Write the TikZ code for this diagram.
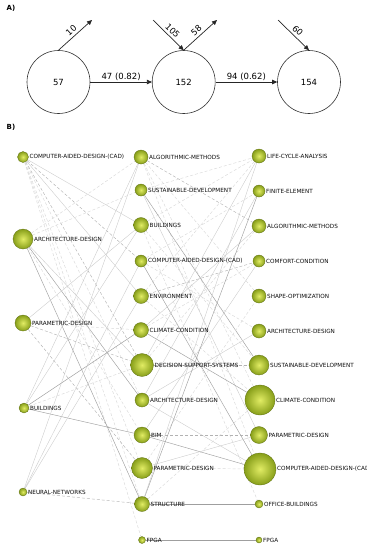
\documentclass[tikz,border=0pt]{standalone}
\usepackage{fontspec}
\setmainfont{DejaVu Sans}
\usetikzlibrary{arrows.meta,backgrounds}
\definecolor{ballin}{RGB}{225,236,100}
\definecolor{ballout}{RGB}{135,158,25}
\definecolor{balledge}{RGB}{95,112,20}
\begin{document}
\begin{tikzpicture}[x=1pt,y=-1pt,label distance=0.3pt,
  theme/.style={circle, inner sep=0pt, minimum size=#1, shade, inner color=ballin, outer color=ballout, draw=balledge, line width=0.3pt},
  lbl/.style={font=\fontsize{5.7}{6}\selectfont, text=black!95, inner sep=0.5pt},
  bigc/.style={circle, draw=black!80, line width=0.6pt, minimum size=63pt, inner sep=0pt, font=\fontsize{8.5}{10}\selectfont},
  arr/.style={-{Triangle[length=5pt,width=4.5pt]}, line width=0.7pt, draw=black!85},
  alab/.style={font=\fontsize{8.5}{10}\selectfont, inner sep=1.5pt},
  slab/.style={font=\fontsize{8.5}{10}\selectfont, inner sep=2.5pt, sloped, above},
  sdark/.style={draw=gray!75, line width=0.45pt},
  slight/.style={draw=gray!40, line width=0.4pt},
  ddark/.style={draw=gray!60, line width=0.45pt, dash pattern=on 3pt off 2pt},
  dlight/.style={draw=gray!30, line width=0.45pt, dash pattern=on 3pt off 2pt},
  sec/.style={font=\bfseries\fontsize{7}{8}\selectfont}
]
\useasboundingbox (0,0) rectangle (367,550);
% ---------- Part A ----------
\node[sec] (la) at (11,8) {A)};
\node[sec] (lb) at (11,127) {B)};
\node[bigc] (p1) at (58.5,82) {57};
\node[bigc] (p2) at (183.7,82) {152};
\node[bigc] (p3) at (309,82) {154};
\coordinate (o1) at (92,20);
\coordinate (i2) at (153,20);
\coordinate (o2) at (217,20);
\coordinate (i3) at (278,20);
\draw[arr] (p1) -- node[alab,above]{47 (0.82)} (p2);
\draw[arr] (p2) -- node[alab,above]{94 (0.62)} (p3);
\draw[arr] (p1.north) -- node[slab]{10} (o1);
\draw[arr] (i2) -- node[slab]{105} (p2.north);
\draw[arr] (p2.north) -- node[slab]{58} (o2);
\draw[arr] (i3) -- node[slab]{60} (p3.north);
% ---------- Part B nodes ----------
% column 1
\node[theme=11pt, label={[lbl]right:COMPUTER-AIDED-DESIGN-(CAD)}] (a1) at (23,157) {};
\node[theme=20pt, label={[lbl]right:ARCHITECTURE-DESIGN}] (a2) at (23,239) {};
\node[theme=16pt, label={[lbl]right:PARAMETRIC-DESIGN}] (a3) at (23,323) {};
\node[theme=10pt, label={[lbl]right:BUILDINGS}] (a4) at (24,408) {};
\node[theme=8pt, label={[lbl]right:NEURAL-NETWORKS}] (a5) at (23,492) {};
% column 2
\node[theme=14pt, label={[lbl]right:ALGORITHMIC-METHODS}] (b1) at (141,157) {};
\node[theme=12pt, label={[lbl]right:SUSTAINABLE-DEVELOPMENT}] (b2) at (141,190) {};
\node[theme=15pt, label={[lbl]right:BUILDINGS}] (b3) at (141,225) {};
\node[theme=12pt, label={[lbl]right:COMPUTER-AIDED-DESIGN-(CAD)}] (b4) at (141,261) {};
\node[theme=15pt, label={[lbl]right:ENVIRONMENT}] (b5) at (141,296) {};
\node[theme=15pt, label={[lbl]right:CLIMATE-CONDITION}] (b6) at (141,330) {};
\node[theme=23pt, label={[lbl]right:DECISION-SUPPORT-SYSTEMS}] (b7) at (142,365) {};
\node[theme=14pt, label={[lbl]right:ARCHITECTURE-DESIGN}] (b8) at (142,400) {};
\node[theme=16pt, label={[lbl]right:BIM}] (b9) at (142,435) {};
\node[theme=21pt, label={[lbl]right:PARAMETRIC-DESIGN}] (b10) at (142,468) {};
\node[theme=15pt, label={[lbl]right:STRUCTURE}] (b11) at (142,504) {};
\node[theme=7pt, label={[lbl]right:FPGA}] (b12) at (142,540) {};
% column 3
\node[theme=14pt, label={[lbl]right:LIFE-CYCLE-ANALYSIS}] (c1) at (259,156) {};
\node[theme=12pt, label={[lbl]right:FINITE-ELEMENT}] (c2) at (259,191) {};
\node[theme=14pt, label={[lbl]right:ALGORITHMIC-METHODS}] (c3) at (259,226) {};
\node[theme=12pt, label={[lbl]right:COMFORT-CONDITION}] (c4) at (259,261) {};
\node[theme=14pt, label={[lbl]right:SHAPE-OPTIMIZATION}] (c5) at (259,296) {};
\node[theme=14pt, label={[lbl]right:ARCHITECTURE-DESIGN}] (c6) at (259,331) {};
\node[theme=20pt, label={[lbl]right:SUSTAINABLE-DEVELOPMENT}] (c7) at (259,365) {};
\node[theme=30pt, label={[lbl]right:CLIMATE-CONDITION}] (c8) at (260,400) {};
\node[theme=17pt, label={[lbl]right:PARAMETRIC-DESIGN}] (c9) at (259,435) {};
\node[theme=32pt, label={[lbl]right:COMPUTER-AIDED-DESIGN-(CAD)}] (c10) at (260,469) {};
\node[theme=8pt, label={[lbl]right:OFFICE-BUILDINGS}] (c11) at (259,504) {};
\node[theme=6pt, label={[lbl]right:FPGA}] (c12) at (259,540) {};
% ---------- Part B edges ----------
\begin{scope}[on background layer]
% column 1 -> column 2
\draw[ddark] (a1) -- (b4);
\draw[slight] (a1) -- (b5);
\draw[ddark] (a1) -- (b7);
\draw[dlight] (a1) -- (b10);
\draw[dlight] (a1) -- (b11);
\draw[dlight] (a1) -- (b12);
\draw[dlight] (a1) -- (b8);
\draw[slight] (a1) -- (b3);
\draw[sdark] (a2) -- (b8);
\draw[sdark] (a2) -- (b11);
\draw[dlight] (a2) -- (b2);
\draw[dlight] (a2) -- (b1);
\draw[slight] (a2) -- (b7);
\draw[dlight] (a2) -- (b9);
\draw[ddark] (a3) -- (b10);
\draw[dlight] (a3) -- (b6);
\draw[ddark] (a3) -- (b7);
\draw[slight] (a3) -- (b3);
\draw[sdark] (a4) -- (b9);
\draw[sdark] (a4) -- (b6);
\draw[dlight] (a4) -- (b7);
\draw[slight] (a4) -- (b3);
\draw[slight] (a4) -- (b1);
\draw[ddark] (a5) -- (b11);
\draw[slight] (a5) -- (b1);
\draw[slight] (a5) -- (b4);
\draw[slight] (a5) -- (b5);
% column 2 -> column 3
\draw[ddark] (b1) -- (c3);
\draw[dlight] (b1) -- (c5);
\draw[dlight] (b1) -- (c8);
\draw[dlight] (b1) -- (c10);
\draw[sdark] (b2) -- (c7);
\draw[dlight] (b2) -- (c1);
\draw[slight] (b2) -- (c9);
\draw[dlight] (b3) -- (c11);
\draw[dlight] (b3) -- (c7);
\draw[dlight] (b3) -- (c1);
\draw[sdark] (b4) -- (c10);
\draw[dlight] (b4) -- (c2);
\draw[dlight] (b4) -- (c6);
\draw[ddark] (b5) -- (c4);
\draw[dlight] (b5) -- (c8);
\draw[dlight] (b5) -- (c1);
\draw[sdark] (b6) -- (c8);
\draw[dlight] (b6) -- (c4);
\draw[slight] (b6) -- (c3);
\draw[ddark] (b7) -- (c7);
\draw[slight] (b7) -- (c1);
\draw[dlight] (b7) -- (c3);
\draw[slight] (b8) -- (c6);
\draw[slight] (b8) -- (c10);
\draw[slight] (b8) -- (c2);
\draw[sdark] (b9) -- (c10);
\draw[ddark] (b9) -- (c9);
\draw[slight] (b9) -- (c4);
\draw[slight] (b10) -- (c9);
\draw[dlight] (b10) -- (c5);
\draw[dlight] (b10) -- (c10);
\draw[sdark] (b11) -- (c11);
\draw[sdark] (b11) -- (c2);
\draw[slight] (b11) -- (c1);
\draw[dlight] (b11) -- (c8);
\draw[sdark] (b12) -- (c12);
\end{scope}
\end{tikzpicture}
\end{document}
